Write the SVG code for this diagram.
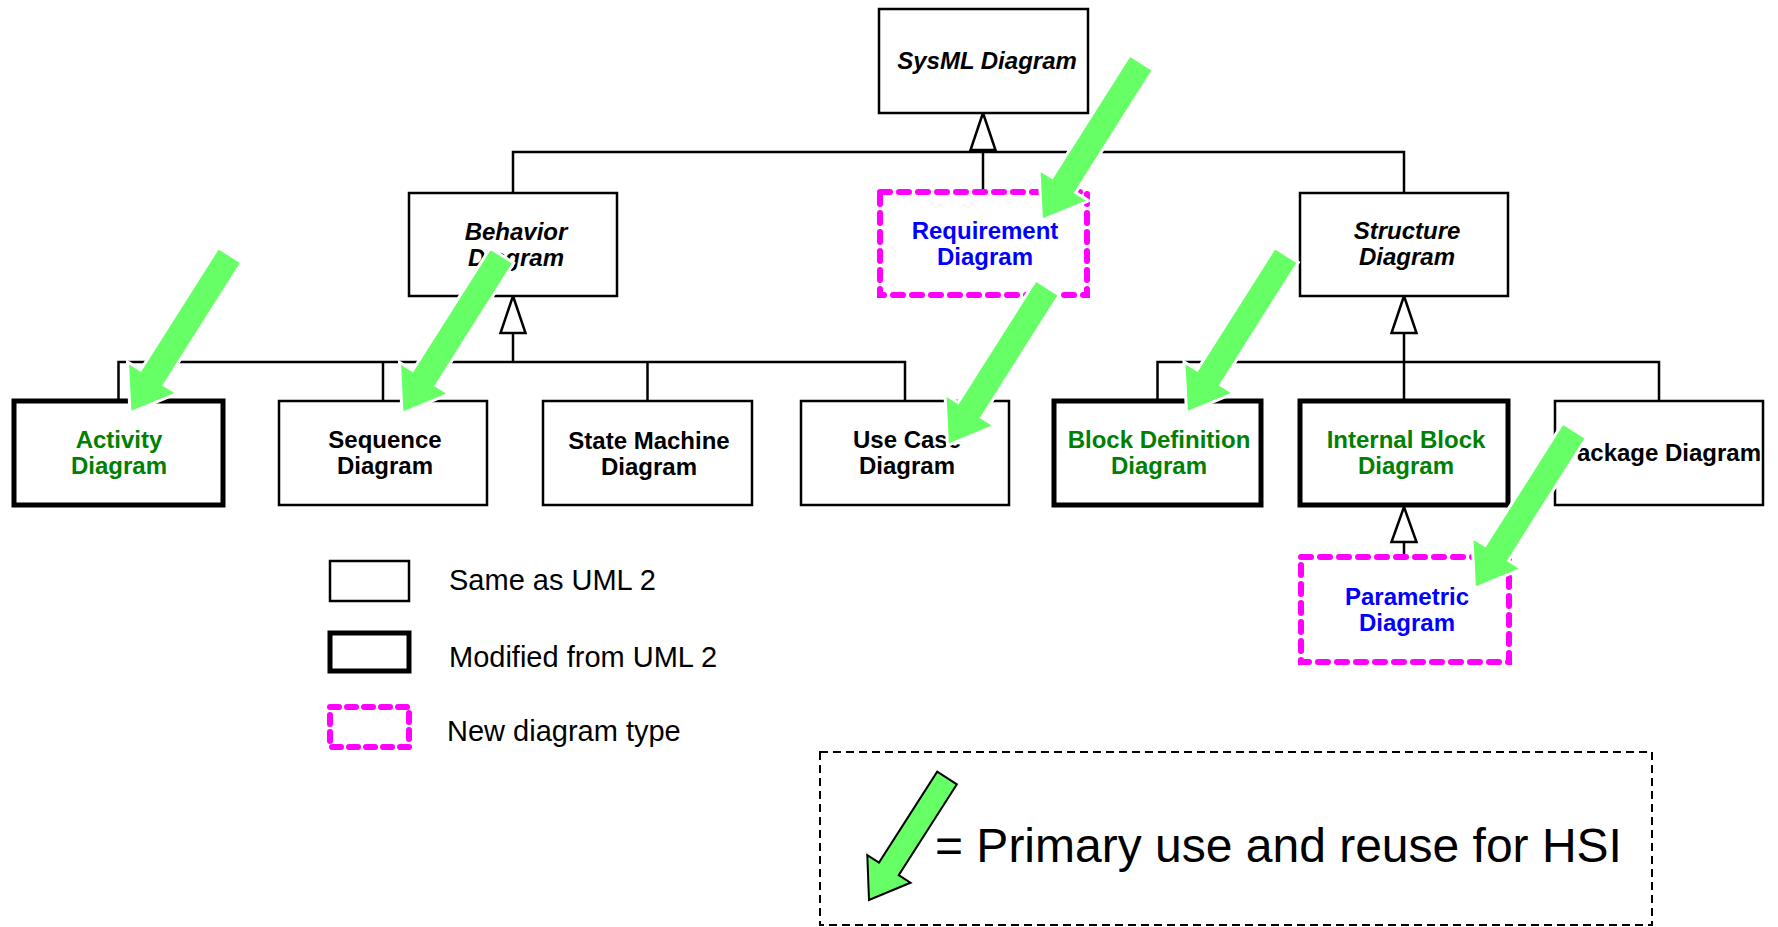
<svg xmlns="http://www.w3.org/2000/svg" xmlns:xlink="http://www.w3.org/1999/xlink" width="1778" height="927" viewBox="0 0 1778 927">
<style>
  .box { fill: #ffffff; stroke: #000000; stroke-width: 2.5; }
  .thick { fill: #ffffff; stroke: #000000; stroke-width: 5; }
  .new { fill: #ffffff; stroke: #ff00ff; stroke-width: 6; stroke-dasharray: 10 9; stroke-linecap: round; }
  .line { fill: none; stroke: #000000; stroke-width: 2.5; }
  .tri { fill: #ffffff; stroke: #000000; stroke-width: 2.5; stroke-linejoin: miter; }
  .lbl { font-family: "Liberation Sans", Arial, Helvetica, sans-serif; font-weight: bold; font-size: 24px; text-anchor: middle; fill: #000000; }
  .abs { font-style: italic; }
  .green { fill: #008000; }
  .blue { fill: #0000ff; }
  .leg { font-family: "Liberation Sans", Arial, Helvetica, sans-serif; font-size: 29px; fill: #000000; }
  .hsi { font-family: "Liberation Sans", Arial, Helvetica, sans-serif; font-size: 48px; fill: #000000; }
  .arrow { fill: #66ff66; stroke: #ffffff; stroke-width: 3; stroke-linejoin: miter; }
</style>
<defs>
  <path id="bigArrow" d="M 11.8 7.5 L -65.8 130.0 L -52.7 138.3 L -100 158 L -102.5 106.7 L -89.4 115.0 L -11.8 -7.5 Z"/>
</defs>
<rect width="1778" height="927" fill="#ffffff"/>

<g id="connectors">
  <polyline class="line" points="513,193 513,152 1404,152 1404,193"/>
  <line class="line" x1="983" y1="150" x2="983" y2="192"/>
  <polygon class="tri" points="983,113 970.5,150 995.5,150"/>
  <line class="line" x1="513" y1="333" x2="513" y2="362"/>
  <polyline class="line" points="118.5,401 118.5,362 905,362 905,401"/>
  <line class="line" x1="383" y1="362" x2="383" y2="401"/>
  <line class="line" x1="647.5" y1="362" x2="647.5" y2="401"/>
  <polygon class="tri" points="513,296 500.5,333 525.5,333"/>
  <line class="line" x1="1404" y1="333" x2="1404" y2="401"/>
  <polyline class="line" points="1157.5,401 1157.5,362 1659,362 1659,401"/>
  <polygon class="tri" points="1404,296 1391.5,333 1416.5,333"/>
  <line class="line" x1="1404" y1="542" x2="1404" y2="557"/>
  <polygon class="tri" points="1404,507 1391.5,542 1416.5,542"/>
</g>

<g id="sysml-diagram">
  <rect class="box" x="879" y="9" width="209" height="104"/>
  <text class="lbl abs" x="987" y="69">SysML Diagram</text>
</g>
<g id="behavior-diagram">
  <rect class="box" x="409" y="193" width="208" height="103"/>
  <text class="lbl abs" x="516" y="239.5">Behavior</text>
  <text class="lbl abs" x="516" y="265.5">Diagram</text>
</g>
<g id="requirement-diagram">
  <rect class="new" x="880" y="192" width="207" height="103"/>
  <text class="lbl blue" x="985" y="238.5">Requirement</text>
  <text class="lbl blue" x="985" y="264.5">Diagram</text>
</g>
<g id="structure-diagram">
  <rect class="box" x="1300" y="193" width="208" height="103"/>
  <text class="lbl abs" x="1407" y="239">Structure</text>
  <text class="lbl abs" x="1407" y="265">Diagram</text>
</g>
<g id="activity-diagram">
  <rect class="thick" x="14" y="401" width="209" height="104"/>
  <text class="lbl green" x="119" y="448">Activity</text>
  <text class="lbl green" x="119" y="474">Diagram</text>
</g>
<g id="sequence-diagram">
  <rect class="box" x="279" y="401" width="208" height="104"/>
  <text class="lbl" x="385" y="448">Sequence</text>
  <text class="lbl" x="385" y="474">Diagram</text>
</g>
<g id="state-machine-diagram">
  <rect class="box" x="543" y="401" width="209" height="104"/>
  <text class="lbl" x="649" y="449">State Machine</text>
  <text class="lbl" x="649" y="475">Diagram</text>
</g>
<g id="use-case-diagram">
  <rect class="box" x="801" y="401" width="208" height="104"/>
  <text class="lbl" x="907" y="448">Use Case</text>
  <text class="lbl" x="907" y="474">Diagram</text>
</g>
<g id="block-definition-diagram">
  <rect class="thick" x="1054" y="401" width="207" height="104"/>
  <text class="lbl green" x="1159" y="448">Block Definition</text>
  <text class="lbl green" x="1159" y="474">Diagram</text>
</g>
<g id="internal-block-diagram">
  <rect class="thick" x="1300" y="401" width="208" height="104"/>
  <text class="lbl green" x="1406" y="448">Internal Block</text>
  <text class="lbl green" x="1406" y="474">Diagram</text>
</g>
<g id="package-diagram">
  <rect class="box" x="1555" y="401" width="208" height="104"/>
  <text class="lbl" x="1661" y="461">Package Diagram</text>
</g>
<g id="parametric-diagram">
  <rect class="new" x="1301" y="557" width="208" height="105"/>
  <text class="lbl blue" x="1407" y="605">Parametric</text>
  <text class="lbl blue" x="1407" y="631">Diagram</text>
</g>

<g id="hsi-arrows">
  <use xlink:href="#bigArrow" class="arrow" transform="translate(230,255)"/>
  <use xlink:href="#bigArrow" class="arrow" transform="translate(502,255.5)"/>
  <use xlink:href="#bigArrow" class="arrow" transform="translate(1141.5,62.5)"/>
  <use xlink:href="#bigArrow" class="arrow" transform="translate(1047.5,287.5)"/>
  <use xlink:href="#bigArrow" class="arrow" transform="translate(1286.5,255)"/>
  <use xlink:href="#bigArrow" class="arrow" transform="translate(1574.5,430.5)"/>
</g>

<g id="legend">
  <rect class="box" x="330" y="561" width="79" height="40"/>
  <text class="leg" x="449" y="590">Same as UML 2</text>
  <rect class="thick" x="330" y="633" width="79" height="38"/>
  <text class="leg" x="449" y="667">Modified from UML 2</text>
  <rect class="new" x="330" y="707" width="79" height="40" style="stroke-dasharray: 9 8;"/>
  <text class="leg" x="447" y="741">New diagram type</text>
</g>

<g id="hsi-legend">
  <rect x="820" y="752" width="832" height="173" fill="none" stroke="#000000" stroke-width="2" stroke-dasharray="8 5"/>
  <path d="M 956.9 784.3 L 898.7 875.2 L 910.5 882.7 L 869 900 L 867.3 855.1 L 879 862.6 L 937.2 771.7 Z" fill="#66ff66" stroke="#000000" stroke-width="2"/>
  <text class="hsi" x="935" y="862">= Primary use and reuse for HSI</text>
</g>
</svg>
